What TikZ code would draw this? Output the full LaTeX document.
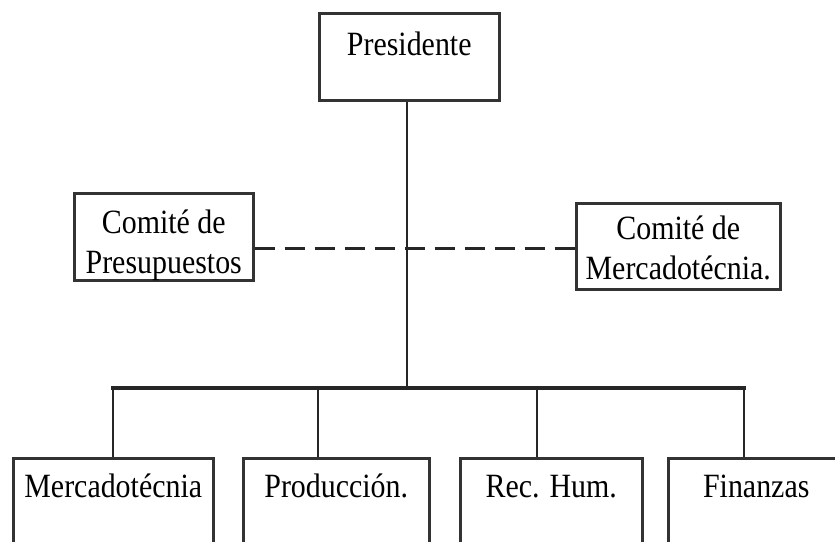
\documentclass[tikz,border=0pt]{standalone}
\usepackage{fontspec}
\setmainfont{Liberation Serif}[FakeStretch=0.88]
\begin{document}
\begin{tikzpicture}[x=1pt,y=-1pt,
  orgbox/.style={draw=black!80, line width=2.5pt, fill=white, rectangle,
    anchor=north west, inner sep=0pt, align=center,
    font=\fontsize{34}{40}\selectfont},
  link/.style={draw=black!85, line width=2pt},
  buslink/.style={draw=black!85, line width=3.5pt},
  dashlink/.style={draw=black!85, line width=3pt, dash pattern=on 20pt off 10pt}]
\useasboundingbox (0,0) rectangle (835,541);
\clip (0,0) rectangle (835,541);

% top level
\node[orgbox, minimum width=180pt, text height=42pt, text depth=45pt] (pres) at (318,12) {Presidente};

% committees (two-line boxes: height counts to the last baseline)
\node[orgbox, minimum width=179pt, text height=80pt, text depth=7pt] (cpre) at (73,192)
  {Comité de\\Presupuestos};
\node[orgbox, minimum width=204pt, text height=76pt, text depth=10pt] (cmer) at (575,202)
  {Comité de\\Mercadotécnia.};

% departments
\node[orgbox, minimum width=200pt, text height=39pt, text depth=80pt] (merc) at (12,457) {Mercadotécnia};
\node[orgbox, minimum width=186pt, text height=39pt, text depth=80pt] (prod) at (242,457) {Producción.};
\node[orgbox, minimum width=182pt, text height=39pt, text depth=80pt] (rrhh) at (459,457) {Rec. Hum.};
\node[orgbox, minimum width=176pt, text height=39pt, text depth=80pt] (fin) at (667,457) {Finanzas};

% trunk and bus
\coordinate (bus) at (407,388);
\coordinate (dashy) at (407,248);
\coordinate (b1) at (113,388);
\coordinate (b2) at (318,388);
\coordinate (b3) at (537,388);
\coordinate (b4) at (744,388);

\draw[link] (pres.south -| bus) -- (bus);
\draw[buslink, line cap=rect] (b1) -- (b4);
\draw[link] (b1) -- (b1 |- merc.north);
\draw[link] (b2) -- (b2 |- prod.north);
\draw[link] (b3) -- (b3 |- rrhh.north);
\draw[link] (b4) -- (b4 |- fin.north);

% staff relation
\draw[dashlink] (cpre.east |- dashy) -- (cmer.west |- dashy);
\end{tikzpicture}
\end{document}
